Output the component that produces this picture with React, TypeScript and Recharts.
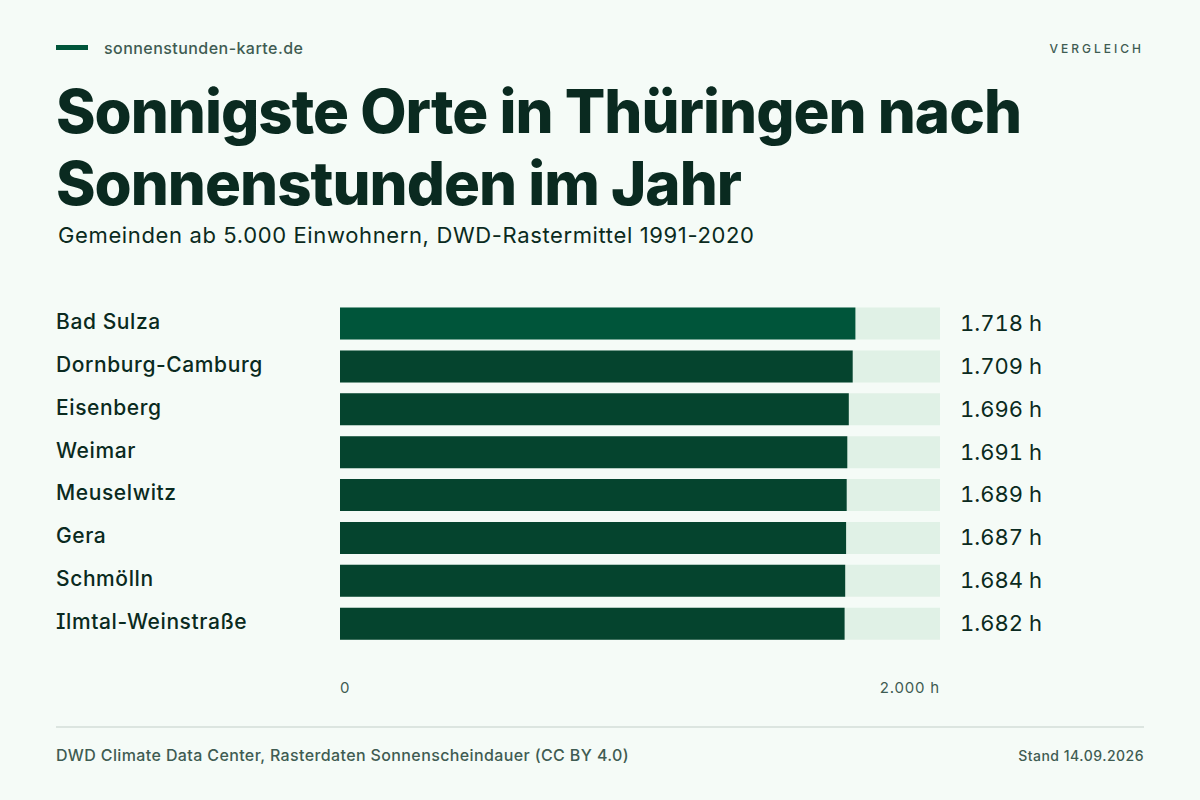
import React from "react";
import { BarChart, Bar, Cell, XAxis, YAxis } from "recharts";

const places = [
  "Bad Sulza",
  "Dornburg-Camburg",
  "Eisenberg",
  "Weimar",
  "Meuselwitz",
  "Gera",
  "Schmölln",
  "Ilmtal-Weinstraße",
];
const hours = [1718, 1709, 1696, 1691, 1689, 1687, 1684, 1682];
const axisTicks = [0, 2000];

const data = places.map((name, i) => ({
  name,
  hours: hours[i],
  label: hours[i].toLocaleString("de-DE") + " h",
}));

const FONT = "Inter, sans-serif";
const INK = "#0a2a20";
const MUTED = "#3f5c52";

const PlaceTick = ({ y, payload }: any) => (
  <text
    x={56}
    y={y}
    dy={5}
    fontFamily={FONT}
    fontSize={21}
    fontWeight={500}
    letterSpacing={0.6}
    fill={INK}
    style={{ fontFeatureSettings: '"cv08"' }}
  >
    {payload.value}
  </text>
);

const ValueTick = ({ x, y, payload }: any) => (
  <text
    x={x}
    y={y}
    dy={7}
    fontFamily={FONT}
    fontSize={22}
    fontWeight={400}
    fill={INK}
    style={{ fontVariantNumeric: "tabular-nums" }}
  >
    {payload.value}
  </text>
);

const HourTick = ({ x, y, payload }: any) => (
  <text
    x={x}
    y={y}
    dy={39}
    textAnchor={payload.value === 0 ? "start" : "end"}
    fontFamily={FONT}
    fontSize={15}
    letterSpacing={0.8}
    fill={MUTED}
  >
    {payload.value === 0 ? "0" : payload.value.toLocaleString("de-DE") + " h"}
  </text>
);

const App = () => {
  return (
    <div style={{ position: "absolute", left: 0, top: 0, width: 1200, height: 800, background: "#f5fbf7", overflow: "hidden", fontFamily: FONT }}>
      <div style={{ position: "absolute", left: 56, top: 45, width: 32, height: 5, background: "#00553a" }} />
      <div style={{ position: "absolute", left: 104, top: 38, fontSize: 16, lineHeight: "20px", fontWeight: 500, letterSpacing: 0.45, color: MUTED }}>
        sonnenstunden-karte.de
      </div>
      <div style={{ position: "absolute", right: 56, top: 41, fontSize: 12, lineHeight: "16px", fontWeight: 500, letterSpacing: 3, color: MUTED }}>
        VERGLEICH
      </div>
      <div style={{ position: "absolute", left: 56, top: 75, fontSize: 60, lineHeight: "72px", fontWeight: 800, letterSpacing: -1, color: INK, whiteSpace: "nowrap" }}>
        Sonnigste Orte in Thüringen nach
        <br />
        Sonnenstunden im Jahr
      </div>
      <div style={{ position: "absolute", left: 58, top: 220, fontSize: 22, lineHeight: "30px", fontWeight: 400, letterSpacing: 0.63, color: INK, whiteSpace: "nowrap" }}>
        Gemeinden ab 5.000 Einwohnern, DWD-Rastermittel 1991-2020
      </div>

      <div style={{ position: "absolute", left: 0, top: 0 }}>
        <BarChart
          layout="vertical"
          width={1200}
          height={800}
          data={data}
          margin={{ top: 302.5, right: 0, bottom: 114.5, left: 0 }}
          barSize={32}
        >
          <XAxis
            type="number"
            domain={[0, 2000]}
            ticks={axisTicks}
            axisLine={false}
            tickLine={false}
            height={40}
            interval={0}
            tick={<HourTick />}
          />
          <YAxis type="category" dataKey="name" width={340} axisLine={false} tickLine={false} interval={0} tick={<PlaceTick />} />
          <Bar dataKey="hours" isAnimationActive={false} fill="#05442e" background={{ fill: "#e0f1e6" }}>
            {data.map((d, i) => (
              <Cell key={d.name} fill={i === 0 ? "#00553a" : "#05442e"} />
            ))}
          </Bar>
          <YAxis
            yAxisId="values"
            orientation="right"
            type="category"
            dataKey="label"
            width={260}
            axisLine={false}
            tickLine={false}
            tickSize={0}
            tickMargin={20}
            interval={0}
            tick={<ValueTick />}
          />
          <Bar yAxisId="values" dataKey="hours" isAnimationActive={false} fill="none" />
        </BarChart>
      </div>

      <div style={{ position: "absolute", left: 56, right: 56, top: 726, height: 2, background: "#dce5e0" }} />
      <div style={{ position: "absolute", left: 56, top: 745, fontSize: 16, lineHeight: "20px", fontWeight: 500, letterSpacing: 0.38, color: MUTED, whiteSpace: "nowrap" }}>
        DWD Climate Data Center, Rasterdaten Sonnenscheindauer (CC BY 4.0)
      </div>
      <div style={{ position: "absolute", right: 56, top: 746, fontSize: 14, lineHeight: "20px", fontWeight: 500, letterSpacing: 0.5, color: MUTED, whiteSpace: "nowrap" }}>
        Stand 14.09.2026
      </div>
    </div>
  );
};

export default App;
